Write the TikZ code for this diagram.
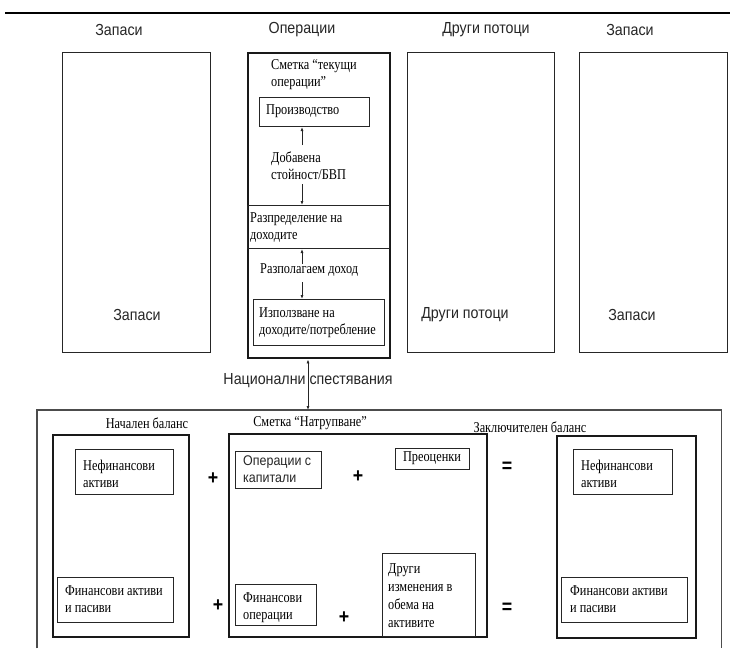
\documentclass[tikz,border=0pt]{standalone}
\usepackage{fontspec}
\setmainfont{Liberation Serif}
\newfontfamily\serf[FakeStretch=0.82]{Liberation Serif}
\newfontfamily\sanf[FakeStretch=0.89]{Liberation Sans}
\usetikzlibrary{arrows.meta}
\begin{document}
\begin{tikzpicture}[x=1pt,y=-1pt,
  box/.style={draw=black!85, line width=1pt, inner sep=0pt, anchor=north west},
  tbox/.style={draw=black!90, line width=2.4pt, inner sep=0pt, anchor=north west},
  hdr/.style={font=\sanf\fontsize{16}{18}\selectfont, text=black!85, inner sep=0pt},
  stxt/.style={font=\sanf\fontsize{14}{17}\selectfont, text=black!85, inner sep=0pt, align=left, anchor=west},
  rtxt/.style={font=\serf\fontsize{15}{17}\selectfont, inner sep=0pt, align=left, anchor=west},
  ctxt/.style={font=\serf\fontsize{15}{17}\selectfont, inner sep=0pt},
  sym/.style={font=\sanf\bfseries\fontsize{20}{20}\selectfont, inner sep=0pt},
  arr/.style={draw=black!85, line width=0.8pt, -{Latex[length=4pt,width=3pt]}},
  darr/.style={draw=black!85, line width=0.8pt, {Latex[length=4pt,width=3pt]}-{Latex[length=4pt,width=3pt]}}
]
\useasboundingbox (0,0) rectangle (730,648);
\fill[white] (0,0) rectangle (730,648);
% top rule
\coordinate (rl) at (5,13);
\coordinate (rr) at (730,13);
\draw[line width=1.2pt] (rl) -- (rr);

% headers
\node[hdr] (h1) at (119,30) {Запаси};
\node[hdr] (h2) at (302,30) {Операции};
\node[hdr] (h3) at (486,30) {Други потоци};
\node[hdr] (h4) at (630,30) {Запаси};

% top row boxes
\node[box, minimum width=148pt, minimum height=300pt] (zap1) at (62,52) {};
\node[tbox, minimum width=142pt, minimum height=305pt] (ops) at (247,52) {};
\node[box, minimum width=147pt, minimum height=300pt] (dr) at (407,52) {};
\node[box, minimum width=148pt, minimum height=300pt] (zap2) at (579,52) {};

\node[hdr] (l1) at (137,315) {Запаси};
\node[hdr] (l3) at (465,315) {Други потоци};
\node[hdr] (l4) at (632,315) {Запаси};

% operations content
\node[rtxt] (smt) at (271,75) {Сметка “текущи\\операции”};
\node[box, minimum width=110pt, minimum height=29pt] (prbox) at (259,97) {};
\node[rtxt] (prt) at (266,111.5) {Производство};
\node[rtxt] (dob) at (271,166) {Добавена\\стойност/БВП};
\node[box, minimum width=142pt, minimum height=43pt] (razp) at (247,205) {};
\node[rtxt] (razpt) at (250,228) {Разпределение на\\доходите};
\node[rtxt] (rzl) at (260,270) {Разполагаем доход};
\node[box, minimum width=131pt, minimum height=46pt] (izp) at (253,299) {};
\node[rtxt] (izpt) at (259,323) {Използване на\\доходите/потребление};

\coordinate (arrx) at (302,0);
\coordinate (a1) at (302,145);
\coordinate (a2) at (302,184);
\coordinate (a3) at (302,264);
\coordinate (a4) at (302,282);
\draw[arr] (a1) -- (prbox.south -| arrx);
\draw[arr] (a2) -- (razp.north -| arrx);
\draw[arr] (a3) -- (razp.south -| arrx);
\draw[arr] (a4) -- (izp.north -| arrx);

% national savings
\node[hdr] (natl) at (308,381) {Национални спестявания};
\node[inner sep=0pt, anchor=north west, minimum width=684pt, minimum height=238pt] (big) at (37,410) {};
\draw[draw=black!70, line width=1.2pt] (big.south west) -- (big.north west) -- (big.north east) -- (big.south east);
\draw[darr] (natl.center |- ops.south) -- (natl.center |- big.north);

% opening balance
\node[ctxt] (nb) at (147,423) {Начален баланс};
\node[tbox, minimum width=136pt, minimum height=202pt] (nbb) at (52,434) {};
\node[box, minimum width=98pt, minimum height=45pt] (nf1) at (75,449) {};
\node[rtxt] (nf1t) at (83,473.5) {Нефинансови\\активи};
\node[box, minimum width=116pt, minimum height=45pt] (fa1) at (57,577) {};
\node[rtxt] (fa1t) at (65,599.5) {Финансови активи\\и пасиви};
\node[sym] (p1) at (213,479) {+};
\node[sym] (p2) at (218,606) {+};

% accumulation account
\node[ctxt] (sn) at (310,423) {Сметка “Натрупване”};
\node[tbox, minimum width=258pt, minimum height=203pt] (nat) at (228,433) {};
\node[box, minimum width=86pt, minimum height=37pt] (opk) at (235,451) {};
\node[stxt] (opkt) at (243,469.5) {Операции с\\капитали};
\node[sym] (p3) at (358,477) {+};
\node[box, minimum width=74pt, minimum height=21pt] (pre) at (395,448) {};
\node[ctxt] (pret) at (432,458.5) {Преоценки};
\node[box, minimum width=81pt, minimum height=41pt] (fo) at (235,584) {};
\node[rtxt] (fot) at (243,607.5) {Финансови\\операции};
\node[sym] (p4) at (344,618) {+};
\node[box, minimum width=93pt, minimum height=83pt] (dri) at (382,553) {};
\node[font=\serf\fontsize{15}{18}\selectfont, inner sep=0pt, align=left, anchor=west] (drit) at (388,596) {Други\\изменения в\\обема на\\активите};
\node[sym] (e1) at (507,467) {=};
\node[sym] (e2) at (507,608) {=};

% closing balance
\node[ctxt] (zb) at (530,427) {Заключителен баланс};
\node[tbox, minimum width=139pt, minimum height=202pt] (zbb) at (556,435) {};
\node[box, minimum width=99pt, minimum height=45pt] (nf2) at (573,449) {};
\node[rtxt] (nf2t) at (581,473.5) {Нефинансови\\активи};
\node[box, minimum width=126pt, minimum height=45pt] (fa2) at (561,577) {};
\node[rtxt] (fa2t) at (570,599.5) {Финансови активи\\и пасиви};
\end{tikzpicture}
\end{document}
